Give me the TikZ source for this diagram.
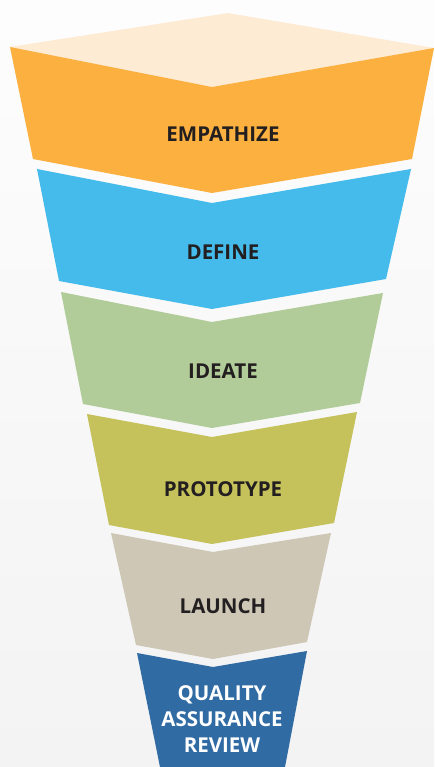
\documentclass[tikz,border=0pt]{standalone}
\usepackage{fontspec}
\setmainfont{Open Sans}
\definecolor{bgtop}{HTML}{FDFDFD}
\definecolor{bgbot}{HTML}{F3F3F3}
\definecolor{topface}{HTML}{FDEBD4}
\definecolor{cEmp}{HTML}{FBB040}
\definecolor{cDef}{HTML}{44BBEA}
\definecolor{cIde}{HTML}{B1CC98}
\definecolor{cPro}{HTML}{C5C15B}
\definecolor{cLau}{HTML}{CEC7B6}
\definecolor{cQA}{HTML}{306BA3}
\definecolor{txt}{HTML}{231F20}
\begin{document}
\begin{tikzpicture}[x=1pt,y=-1pt,
  lbl/.style={font=\bfseries\fontsize{20.5}{26}\selectfont, text=txt, align=center, inner sep=0pt},
  band/.style={draw=none}]
\useasboundingbox (0,0) rectangle (434,767);
\shade[top color=bgtop, bottom color=bgbot] (0,0) rectangle (434,767);
% top face
\fill[topface] (10,47) -- (228,13) -- (434,48) -- (212,87) -- cycle;
% bands
\fill[cEmp] (10,47) -- (212,87) -- (434,48) -- (412,159) -- (212,193) -- (33,159) -- cycle;
\fill[cDef] (37,169) -- (212,203) -- (411,169) -- (386,279) -- (212,309) -- (59,281) -- cycle;
\fill[cIde] (61,292) -- (212,322) -- (383,293) -- (360,403) -- (212,428) -- (83,404) -- cycle;
\fill[cPro] (87,414) -- (212,437) -- (357,412) -- (334,523) -- (212,544) -- (109,525) -- cycle;
\fill[cLau] (111,533) -- (213,552) -- (331,533) -- (307,642) -- (213,659) -- (136,645) -- cycle;
\fill[cQA] (137,653) -- (213,667) -- (307,651) -- (285,767) -- (160,767) -- cycle;
% labels
\node[lbl] (emp) at (223,134) {EMPATHIZE};
\node[lbl] (def) at (223,252) {DEFINE};
\node[lbl] (ide) at (223,371) {IDEATE};
\node[lbl] (pro) at (223,489) {PROTOTYPE};
\node[lbl] (lau) at (223,606) {LAUNCH};
\node[lbl, text=white] (qa) at (222,719) {QUALITY\\ASSURANCE\\REVIEW};
\end{tikzpicture}
\end{document}
